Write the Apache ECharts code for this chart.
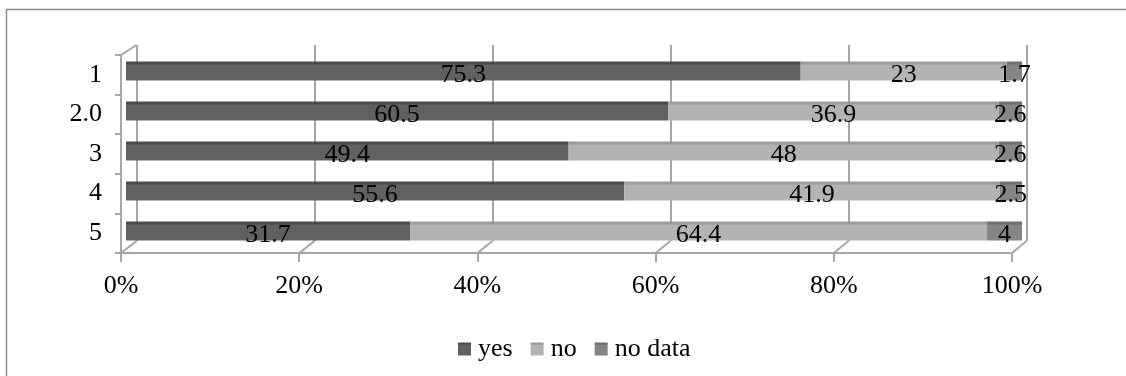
<!DOCTYPE html>
<html>
<head>
<meta charset="utf-8">
<script src="https://cdn.jsdelivr.net/npm/echarts@6/dist/echarts.min.js"></script>
<style>
  html, body { margin: 0; padding: 0; background: #ffffff; }
  #chart { width: 1126px; height: 376px; }
</style>
</head>
<body>
<div id="chart"></div>
<script>
// Survey answers per group, in percent
const categories = ['1', '2.0', '3', '4', '5'];
const yesValues = [75.3, 60.5, 49.4, 55.6, 31.7];
const noValues = [23, 36.9, 48, 41.9, 64.4];
const noDataValues = [1.7, 2.6, 2.6, 2.5, 4];
const seriesNames = ['yes', 'no', 'no data'];
const percentTicks = [0, 20, 40, 60, 80, 100];

// Layout of the pseudo-3D frame: front axes, back wall, and the bar plane between them
const FRONT = { left: 121, top: 55, width: 891, height: 198 };
const BACK = { left: 136.5, top: 45, width: 890, height: 196 };
const BARS = { left: 126, top: 51, width: 896, height: 200 };

const FONT = '"Liberation Serif", "Times New Roman", serif';
const FONT_SIZE = 26;
const FRAME = '#a6a6a6';

// Front face colour and slightly darker top face for each series
const palette = [
  { top: '#4c4c4c', front: '#616161' },
  { top: '#9c9c9c', front: '#b3b3b3' },
  { top: '#6e6e6e', front: '#858585' }
];

function barFill(c) {
  return new echarts.graphic.LinearGradient(0, 0, 0, 1, [
    { offset: 0, color: c.top },
    { offset: 0.15, color: c.top },
    { offset: 0.17, color: c.front },
    { offset: 1, color: c.front }
  ]);
}

const valueSets = [yesValues, noValues, noDataValues];
const barSeries = seriesNames.map((name, i) => ({
  name: name,
  type: 'bar',
  stack: 'total',
  xAxisIndex: 2,
  yAxisIndex: 2,
  barWidth: 19,
  data: valueSets[i],
  itemStyle: { color: barFill(palette[i]) },
  label: {
    show: true,
    position: 'inside',
    offset: [0, 4],
    color: '#000',
    fontFamily: FONT,
    fontSize: FONT_SIZE
  },
  emphasis: { disabled: true }
}));

// Floor and side-wall edges joining the back wall to the front axes
const pxFront = v => FRONT.left + FRONT.width * v / 100;
const pxBack = v => BACK.left + BACK.width * v / 100;
const lineStyle = { stroke: FRAME, lineWidth: 2 };
const frameEdges = percentTicks.map(v => ({
  type: 'polyline',
  silent: true,
  shape: { points: [[pxFront(v), FRONT.top + FRONT.height], [pxBack(v), BACK.top + BACK.height]] },
  style: lineStyle
}));
frameEdges.push({
  type: 'polyline',
  silent: true,
  shape: { points: [[FRONT.left, FRONT.top], [BACK.left, BACK.top]] },
  style: lineStyle
});
// Outer chart border
frameEdges.push({
  type: 'rect',
  silent: true,
  z: -1,
  shape: { x: 6.5, y: 9.5, width: 1200, height: 400 },
  style: { fill: null, stroke: '#8a8a8a', lineWidth: 1.5 }
});

const legendSeriesColors = palette.map(c => c.front);

const option = {
  animation: false,
  backgroundColor: '#ffffff',
  color: legendSeriesColors,
  graphic: frameEdges,
  grid: [
    { left: FRONT.left, top: FRONT.top, width: FRONT.width, height: FRONT.height },
    { left: BACK.left, top: BACK.top, width: BACK.width, height: BACK.height },
    { left: BARS.left, top: BARS.top, width: BARS.width, height: BARS.height }
  ],
  xAxis: [
    {
      gridIndex: 0, type: 'value', min: 0, max: 100, interval: 20,
      axisLine: { show: true, lineStyle: { color: FRAME, width: 2 } },
      axisTick: { show: true, length: 9, lineStyle: { color: FRAME, width: 2 } },
      splitLine: { show: false },
      axisLabel: { formatter: '{value}%', margin: 20, color: '#000', fontFamily: FONT, fontSize: FONT_SIZE }
    },
    {
      gridIndex: 1, type: 'value', min: 0, max: 100, interval: 20,
      axisLine: { show: false }, axisTick: { show: false }, axisLabel: { show: false },
      splitLine: { show: true, lineStyle: { color: FRAME, width: 2 } }
    },
    {
      gridIndex: 2, type: 'value', min: 0, max: 100, show: false
    }
  ],
  yAxis: [
    {
      gridIndex: 0, type: 'category', inverse: true, data: categories,
      axisLine: { show: true, lineStyle: { color: FRAME, width: 2 } },
      axisTick: { show: true, length: 6, lineStyle: { color: FRAME, width: 2 } },
      axisLabel: { margin: 19, padding: [6, 0, 0, 0], color: '#000', fontFamily: FONT, fontSize: FONT_SIZE }
    },
    {
      gridIndex: 1, type: 'category', inverse: true, data: categories, show: false
    },
    {
      gridIndex: 2, type: 'category', inverse: true, data: categories, show: false
    }
  ],
  legend: {
    left: 453,
    top: 331,
    itemWidth: 13,
    itemHeight: 13,
    itemGap: 18,
    icon: 'rect',
    data: seriesNames,
    textStyle: { color: '#000', fontFamily: FONT, fontSize: FONT_SIZE, padding: [0, 0, 0, 2] }
  },
  series: barSeries
};

const chart = echarts.init(document.getElementById('chart'), null, { renderer: 'canvas' });
chart.setOption(option);
</script>
</body>
</html>
